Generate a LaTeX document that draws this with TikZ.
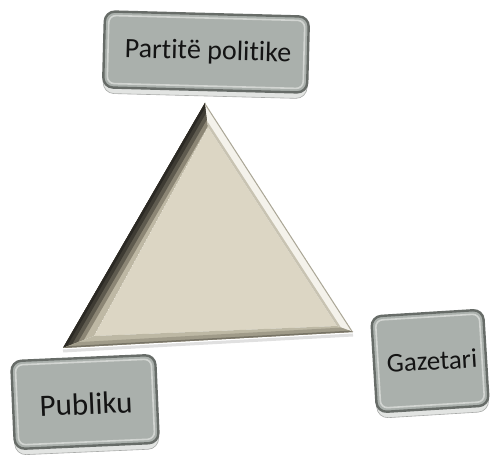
\documentclass[tikz,border=0pt]{standalone}
\usepackage{fontspec}
\setmainfont[Ligatures=NoCommon]{Carlito}
\usetikzlibrary{calc}
\definecolor{boxfill}{HTML}{AAB0AC}
\definecolor{boxedge}{HTML}{676C68}
\definecolor{boxrim}{HTML}{D2D5D2}
\definecolor{boxbasec}{HTML}{E2E4E2}
\definecolor{tribeige}{HTML}{DCD6C4}
\definecolor{trileftbase}{HTML}{BEB8A4}
\definecolor{triright}{HTML}{F4F2EB}
\definecolor{tribottom}{HTML}{BDB8A4}
\definecolor{tridark}{HTML}{2B2924}
\begin{document}
\begin{tikzpicture}[x=1pt,y=1pt,
  boxbase/.style={fill=boxbasec, draw=boxbasec!75!black, line width=0.6pt, rounded corners=11pt},
  boxbody/.style={fill=boxfill, draw=boxedge, line width=2.4pt, rounded corners=10pt},
  boxrimline/.style={draw=boxrim, line width=1.6pt, rounded corners=7pt},
  boxlabel/.style={text=black!92, inner sep=0pt}]
\useasboundingbox (0,0) rectangle (491,455);
\fill[white] (0,0) rectangle (491,455);

% ---------- triangle ----------
\coordinate (A) at (205,352);
\coordinate (B) at (63,107);
\coordinate (C) at (353,123);
\coordinate (Ai) at (208,328);
\coordinate (Bi) at (94,119);
\coordinate (Ci) at (337,129);
% shadow line under the bottom edge
\draw[line width=3pt, black!12] ([yshift=-3pt]B) -- ([yshift=-3pt]C);
% top face
\fill[tribeige] (Ai) -- (Bi) -- (Ci) -- cycle;
% left face
\begin{scope}
  \clip (A) -- (B) -- (Bi) -- (Ai) -- cycle;
  \fill[trileftbase] (A) -- (B) -- (Bi) -- (Ai) -- cycle;
  \draw[line width=28pt, color={rgb,255:red,140;green,134;blue,117}] ($(A)!-0.2!(B)$) -- ($(B)!-0.2!(A)$);
  \draw[line width=20pt, color={rgb,255:red,95;green,91;blue,79}] ($(A)!-0.2!(B)$) -- ($(B)!-0.2!(A)$);
  \draw[line width=12pt, color={rgb,255:red,62;green,59;blue,51}] ($(A)!-0.2!(B)$) -- ($(B)!-0.2!(A)$);
  \draw[line width=5pt, tridark] ($(A)!-0.2!(B)$) -- ($(B)!-0.2!(A)$);
\end{scope}
% right face
\begin{scope}
  \clip (A) -- (C) -- (Ci) -- (Ai) -- cycle;
  \fill[triright] (A) -- (C) -- (Ci) -- (Ai) -- cycle;
  \draw[line width=5pt, color={rgb,255:red,200;green,195;blue,178}] ($(Ai)!-0.2!(Ci)$) -- ($(Ci)!-0.2!(Ai)$);
  \draw[line width=2pt, color={rgb,255:red,170;green,166;blue,150}] ($(A)!-0.2!(C)$) -- ($(C)!-0.2!(A)$);
\end{scope}
% bottom face
\begin{scope}
  \clip (B) -- (C) -- (Ci) -- (Bi) -- cycle;
  \fill[tribottom] (B) -- (C) -- (Ci) -- (Bi) -- cycle;
  \draw[line width=10pt, color={rgb,255:red,160;green,155;blue,137}] ($(B)!-0.2!(C)$) -- ($(C)!-0.2!(B)$);
  \draw[line width=3pt, color={rgb,255:red,120;green,116;blue,102}] ($(B)!-0.2!(C)$) -- ($(C)!-0.2!(B)$);
\end{scope}

% ---------- top box ----------
\begin{scope}[shift={(206,403)}, rotate=-1.5, transform shape]
  \draw[boxbase] (-102,-44) rectangle (102,36);
  \draw[boxbody] (-102,-38) rectangle (102,38);
  \draw[boxrimline] (-98,-34) rectangle (98,34);
  \node[boxlabel, font=\fontsize{28}{30}\selectfont] (partite) at (2,0) {Part\kern0pt it\kern0pt ë polit\kern0pt ike};
\end{scope}

% ---------- Publiku box ----------
\begin{scope}[shift={(85,53)}, rotate=2.5, transform shape]
  \draw[boxbase] (-72,-50) rectangle (72,42);
  \draw[boxbody] (-72,-44) rectangle (72,44);
  \draw[boxrimline] (-68,-40) rectangle (68,40);
  \node[boxlabel, font=\fontsize{31}{33}\selectfont] (publiku) at (1,-2) {Publiku};
\end{scope}

% ---------- Gazetari box ----------
\begin{scope}[shift={(430,94)}, rotate=3.5, transform shape]
  \draw[boxbase] (-56,-54) rectangle (56,46);
  \draw[boxbody] (-56,-48) rectangle (56,48);
  \draw[boxrimline] (-52,-44) rectangle (52,44);
  \node[boxlabel, font=\fontsize{27}{29}\selectfont] (gazetari) at (2,0) {Gazetari};
\end{scope}
\end{tikzpicture}
\end{document}
